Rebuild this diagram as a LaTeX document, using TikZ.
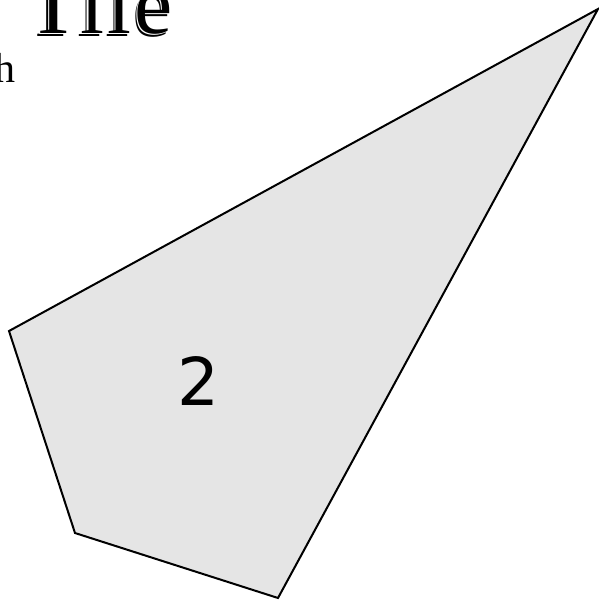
\documentclass[tikz,border=0pt]{standalone}
\usepackage{fontspec}
\setmainfont{Liberation Serif}
\newfontfamily\digitfont{DejaVu Sans}
\newfontfamily\titlefont[LetterSpace=4]{Liberation Serif}
\usepackage{tikz}
\usetikzlibrary{positioning}

\begin{document}
\begin{tikzpicture}[
  x=1pt, y=-1pt,
  tileface/.style={draw, line width=2pt, fill=black!10, line join=miter},
  bigtitle/.style={inner sep=0pt, anchor=base west, font=\titlefont\fontsize{86}{86}\selectfont},
  sidelabel/.style={inner sep=0pt, font=\fontsize{42}{42}\selectfont},
  tilenum/.style={inner sep=0pt, font=\digitfont\fontsize{66}{66}\selectfont},
]
  \useasboundingbox (0,0) rectangle (599,603);
  \begin{scope}
    \clip (0,0) rectangle (599,603);
    % the tile
    \coordinate (v1) at (9,331);
    \coordinate (v2) at (598,9);
    \coordinate (v3) at (278,598);
    \coordinate (v4) at (75,533);
    \draw[tileface] (v1) -- (v2) -- (v3) -- (v4) -- cycle;
    \node[tilenum] (num) at (198,381) {2};

    % heading, cut by the page edge (engraved look)
    \node[bigtitle] (titleshade) at (24.6,36) {Tile};
    \node[bigtitle, text=white] (titlegap) at (25.8,34.8) {Tile};
    \node[bigtitle] (title) at (27,33.6) {Tile};
    \node[sidelabel, anchor=base east] (side) at (16,82) {h};
  \end{scope}
\end{tikzpicture}
\end{document}
